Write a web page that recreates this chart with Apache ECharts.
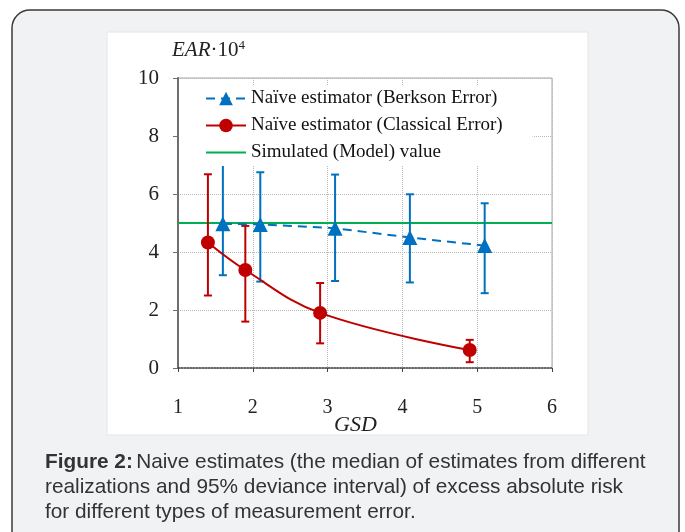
<!DOCTYPE html>
<html>
<head>
<meta charset="utf-8">
<script src="https://cdn.jsdelivr.net/npm/echarts@6/dist/echarts.min.js"></script>
<style>
html,body{margin:0;padding:0;background:#fff;}
#chart{width:685px;height:532px;}
</style>
</head>
<body>
<div id="chart"></div>
<script>
// ---- data ----
const xTicks = [1, 2, 3, 4, 5, 6];
const yTicks = [0, 2, 4, 6, 8, 10];

const berksonGSD  = [1.6, 2.1, 3.1, 4.1, 5.1];
const berksonEAR  = [4.97, 4.95, 4.82, 4.5, 4.22];
const berksonLow  = [3.2, 2.98, 3.0, 2.95, 2.58];
const berksonHigh = [7.3, 6.75, 6.67, 5.99, 5.68];

const classicalGSD  = [1.4, 1.9, 2.9, 4.9];
const classicalEAR  = [4.33, 3.38, 1.9, 0.62];
const classicalLow  = [2.5, 1.6, 0.85, 0.2];
const classicalHigh = [6.68, 4.9, 2.93, 0.97];

const modelGSD = [1, 6];
const modelEAR = [5, 5];

const seriesNames = [
  'Naïve estimator (Berkson Error)',
  'Naïve estimator (Classical Error)',
  'Simulated (Model) value'
];
const captionLines = [
  'Naive estimates (the median of estimates from different',
  'realizations and 95% deviance interval) of excess absolute risk',
  'for different types of measurement error.'
];

// ---- build ----
const BLUE = '#0070c0', RED = '#c00000', GREEN = '#00b050';
const SERIF = '"Liberation Serif", "Times New Roman", serif';
const SANS = '"Liberation Sans", Arial, sans-serif';
const CAP = 20.8;

function zip(a, b) { return a.map((v, i) => [v, b[i]]); }
function errData(x, lo, hi) { return x.map((v, i) => [v, lo[i], hi[i]]); }
function errRender(color) {
  return function (params, api) {
    const x = api.value(0), lo = api.value(1), hi = api.value(2);
    const p1 = api.coord([x, lo]), p2 = api.coord([x, hi]);
    const w = 4;
    const st = { stroke: color, lineWidth: 2 };
    return {
      type: 'group',
      children: [
        { type: 'line', shape: { x1: p1[0], y1: p1[1], x2: p2[0], y2: p2[1] }, style: st },
        { type: 'line', shape: { x1: p1[0] - w, y1: p1[1], x2: p1[0] + w, y2: p1[1] }, style: st },
        { type: 'line', shape: { x1: p2[0] - w, y1: p2[1], x2: p2[0] + w, y2: p2[1] }, style: st }
      ]
    };
  };
}

const chart = echarts.init(document.getElementById('chart'), null, { renderer: 'canvas' });

const option = {
  animation: false,
  backgroundColor: '#ffffff',
  graphic: [
    { type: 'rect', z: -10, shape: { x: 12, y: 10, width: 667, height: 540, r: 18 },
      style: { fill: '#f1f2f4', stroke: '#3a3a3a', lineWidth: 1.5 } },
    { type: 'rect', z: -9, shape: { x: 107, y: 32, width: 481, height: 403 },
      style: { fill: '#ffffff', stroke: '#e6e6e6', lineWidth: 1 } },
    { type: 'text', z: 10, left: 172, top: 39,
      style: {
        text: '{i|EAR}{n|·10}{s|4}',
        rich: {
          i: { fontFamily: SERIF, fontStyle: 'italic', fontSize: 21, fill: '#222' },
          n: { fontFamily: SERIF, fontSize: 21, fill: '#222' },
          s: { fontFamily: SERIF, fontSize: 13, fill: '#222', padding: [0, 0, 10, 0] }
        }
      } },
    { type: 'text', z: 10, left: 334, top: 414,
      style: { text: 'GSD', fontFamily: SERIF, fontStyle: 'italic', fontSize: 22, fill: '#222' } },
    { type: 'text', z: 10, left: 45, top: 452,
      style: {
        text: '{b|Figure 2:} {r|' + captionLines[0] + '}',
        rich: {
          b: { fontFamily: SANS, fontWeight: 'bold', fontSize: CAP, fill: '#333' },
          r: { fontFamily: SANS, fontSize: CAP, fill: '#333' }
        }
      } },
    { type: 'text', z: 10, left: 45, top: 477,
      style: { text: captionLines[1], fontFamily: SANS, fontSize: CAP, fill: '#333' } },
    { type: 'text', z: 10, left: 45, top: 502,
      style: { text: captionLines[2], fontFamily: SANS, fontSize: CAP, fill: '#333' } }
  ],
  grid: {
    left: 178, top: 78, width: 374, height: 290,
    show: true, borderColor: '#a6a6a6', borderWidth: 1, backgroundColor: 'transparent'
  },
  legend: {
    left: 180, top: 85, orient: 'vertical',
    backgroundColor: '#ffffff',
    padding: [3, 30, 3, 25],
    itemWidth: 40, itemHeight: 17, itemGap: 6,
    data: [
      seriesNames[0],
      seriesNames[1],
      { name: seriesNames[2], itemStyle: { opacity: 0 } }
    ],
    textStyle: { fontFamily: SERIF, fontSize: 19, color: '#111', lineHeight: 21 }
  },
  xAxis: {
    type: 'value', min: 1, max: 6, interval: 1,
    axisLine: { show: true, onZero: false, lineStyle: { color: '#444', type: 'dotted', width: 1.5 } },
    axisTick: { show: true, length: 4, lineStyle: { color: '#444' } },
    axisLabel: { margin: 30, fontFamily: SERIF, fontSize: 20, color: '#222' },
    splitLine: { show: true, lineStyle: { color: '#b8b8b8', type: 'dotted', width: 1 } }
  },
  yAxis: {
    type: 'value', min: 0, max: 10, interval: 2,
    axisLine: { show: true, lineStyle: { color: '#6e6e6e', width: 2 } },
    axisTick: { show: true, length: 5, lineStyle: { color: '#6e6e6e' } },
    axisLabel: { margin: 19, fontFamily: SERIF, fontSize: 21, color: '#222' },
    splitLine: { show: true, lineStyle: { color: '#b8b8b8', type: 'dotted', width: 1 } }
  },
  series: [
    { type: 'custom', name: 'errB', renderItem: errRender(BLUE), data: errData(berksonGSD, berksonLow, berksonHigh), z: 2, encode: { x: 0, y: [1, 2] } },
    { type: 'custom', name: 'errC', renderItem: errRender(RED), data: errData(classicalGSD, classicalLow, classicalHigh), z: 2, encode: { x: 0, y: [1, 2] } },
    { type: 'line', name: seriesNames[2], data: zip(modelGSD, modelEAR), symbol: 'none',
      lineStyle: { color: GREEN, width: 2 }, itemStyle: { color: GREEN }, z: 1 },
    { type: 'line', name: seriesNames[0], data: zip(berksonGSD, berksonEAR),
      symbol: 'triangle', symbolSize: 15, lineStyle: { color: BLUE, width: 2, type: [9, 6] },
      itemStyle: { color: BLUE }, z: 3 },
    { type: 'line', name: seriesNames[1], data: zip(classicalGSD, classicalEAR), smooth: 0.4,
      symbol: 'circle', symbolSize: 14, lineStyle: { color: RED, width: 2 },
      itemStyle: { color: RED }, z: 3 }
  ]
};
chart.setOption(option);
</script>
</body>
</html>
